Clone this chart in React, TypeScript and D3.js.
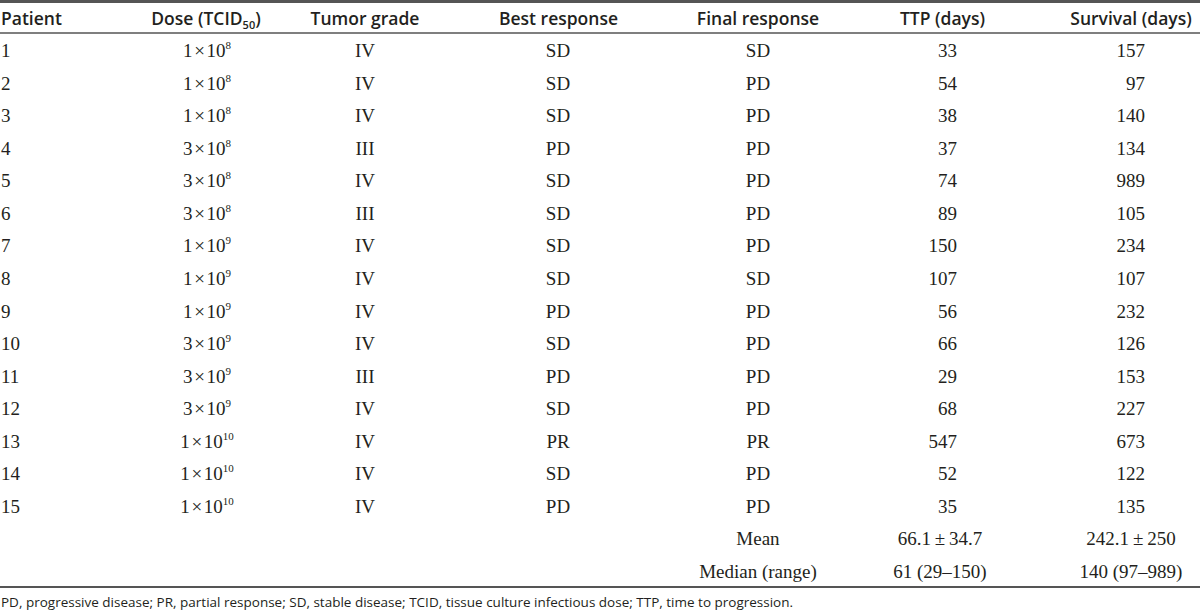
import React, { useEffect, useRef } from "react";
import * as d3 from "d3";

const headers = ["Patient", "Dose (TCID50)", "Tumor grade", "Best response", "Final response", "TTP (days)", "Survival (days)"];
const patients = ["1", "2", "3", "4", "5", "6", "7", "8", "9", "10", "11", "12", "13", "14", "15"];
const doseMantissa = [1, 1, 1, 3, 3, 3, 1, 1, 1, 3, 3, 3, 1, 1, 1];
const doseExponent = [8, 8, 8, 8, 8, 8, 9, 9, 9, 9, 9, 9, 10, 10, 10];
const tumorGrade = ["IV", "IV", "IV", "III", "IV", "III", "IV", "IV", "IV", "IV", "III", "IV", "IV", "IV", "IV"];
const bestResponse = ["SD", "SD", "SD", "PD", "SD", "SD", "SD", "SD", "PD", "SD", "PD", "SD", "PR", "SD", "PD"];
const finalResponse = ["SD", "PD", "PD", "PD", "PD", "PD", "PD", "SD", "PD", "PD", "PD", "PD", "PR", "PD", "PD"];
const ttpDays = [33, 54, 38, 37, 74, 89, 150, 107, 56, 66, 29, 68, 547, 52, 35];
const survivalDays = [157, 97, 140, 134, 989, 105, 234, 107, 232, 126, 153, 227, 673, 122, 135];
const summaryLabels = ["Mean", "Median (range)"];
const summaryTTP = ["66.1\u2009±\u200934.7", "61 (29–150)"];
const summarySurvival = ["242.1\u2009±\u2009250", "140 (97–989)"];
const footnote = "PD, progressive disease; PR, partial response; SD, stable disease; TCID, tissue culture infectious dose; TTP, time to progression.";

const W = 1200;
const H = 613;
const SERIF = "'Liberation Serif', 'Times New Roman', serif";
const SANS = "'Open Sans', 'Noto Sans', sans-serif";
const INK = "#231f20";
const RULE = "#555";

export default function App() {
  const ref = useRef<SVGSVGElement | null>(null);

  useEffect(() => {
    const svg = d3.select(ref.current);
    svg.selectAll("*").remove();

    const rowKeys = [...patients, ...summaryLabels];
    const y = d3.scalePoint<string>().domain(rowKeys).range([57, 578]);

    const colX = d3
      .scaleOrdinal<string, number>()
      .domain(["patient", "dose", "grade", "best", "final", "ttp", "survival", "ttpSum", "survSum"])
      .range([1, 207, 365, 558, 758, 957, 1145, 940, 1131]);

    const rules = [
      { y: 1.5, w: 3 },
      { y: 33, w: 1.6 },
      { y: 587, w: 2 },
    ];
    svg
      .selectAll("line.rule")
      .data(rules)
      .join("line")
      .attr("class", "rule")
      .attr("x1", 0)
      .attr("x2", W)
      .attr("y1", (d) => d.y)
      .attr("y2", (d) => d.y)
      .attr("stroke", RULE)
      .attr("stroke-width", (d) => d.w);

    const headerX = [1, 206, 365, 558.5, 758, 942.5, 1131];
    const hg = svg
      .append("g")
      .attr("font-family", SANS)
      .attr("font-weight", 600)
      .attr("font-size", 17.5)
      .attr("fill", INK);
    headers.forEach((h, i) => {
      const t = hg
        .append("text")
        .attr("x", headerX[i])
        .attr("y", 25)
        .attr("text-anchor", i === 0 ? "start" : "middle");
      if (h.includes("TCID50")) {
        t.append("tspan").text("Dose (TCID");
        t.append("tspan").attr("font-size", 11).attr("dy", 4).text("50");
        t.append("tspan").attr("dy", -4).text(")");
      } else {
        t.text(h);
      }
    });

    const body = svg.append("g").attr("font-family", SERIF).attr("font-size", 19).attr("fill", INK);

    const addCol = (vals: (string | number)[], key: string, anchor: string) => {
      body
        .append("g")
        .selectAll("text")
        .data(vals)
        .join("text")
        .attr("x", colX(key))
        .attr("y", (_, i) => y(patients[i]) as number)
        .attr("text-anchor", anchor)
        .text((d) => String(d));
    };

    addCol(patients, "patient", "start");

    body
      .append("g")
      .selectAll("text")
      .data(doseMantissa.map((m, i) => ({ m, e: doseExponent[i] })))
      .join("text")
      .attr("x", colX("dose"))
      .attr("y", (_, i) => y(patients[i]) as number)
      .attr("text-anchor", "middle")
      .each(function (d) {
        const t = d3.select(this);
        t.append("tspan").text(`${d.m}\u200a×\u200a10`);
        t.append("tspan").attr("font-size", 11).attr("dy", -8).text(String(d.e));
      });

    addCol(tumorGrade, "grade", "middle");
    addCol(bestResponse, "best", "middle");
    addCol(finalResponse, "final", "middle");
    addCol(ttpDays, "ttp", "end");
    addCol(survivalDays, "survival", "end");

    summaryLabels.forEach((lab, i) => {
      const yy = y(lab) as number;
      body.append("text").attr("x", colX("final")).attr("y", yy).attr("text-anchor", "middle").text(lab);
      body.append("text").attr("x", colX("ttpSum")).attr("y", yy).attr("text-anchor", "middle").text(summaryTTP[i]);
      body.append("text").attr("x", colX("survSum")).attr("y", yy).attr("text-anchor", "middle").text(summarySurvival[i]);
    });

    svg
      .append("text")
      .attr("x", 1)
      .attr("y", 607)
      .attr("font-family", SANS)
      .attr("font-size", 13.5)
      .attr("fill", INK)
      .text(footnote);
  }, []);

  return (
    <svg
      ref={ref}
      width={W}
      height={H}
      viewBox={`0 0 ${W} ${H}`}
      style={{ position: "absolute", left: 0, top: 0, background: "#fff" }}
    />
  );
}
